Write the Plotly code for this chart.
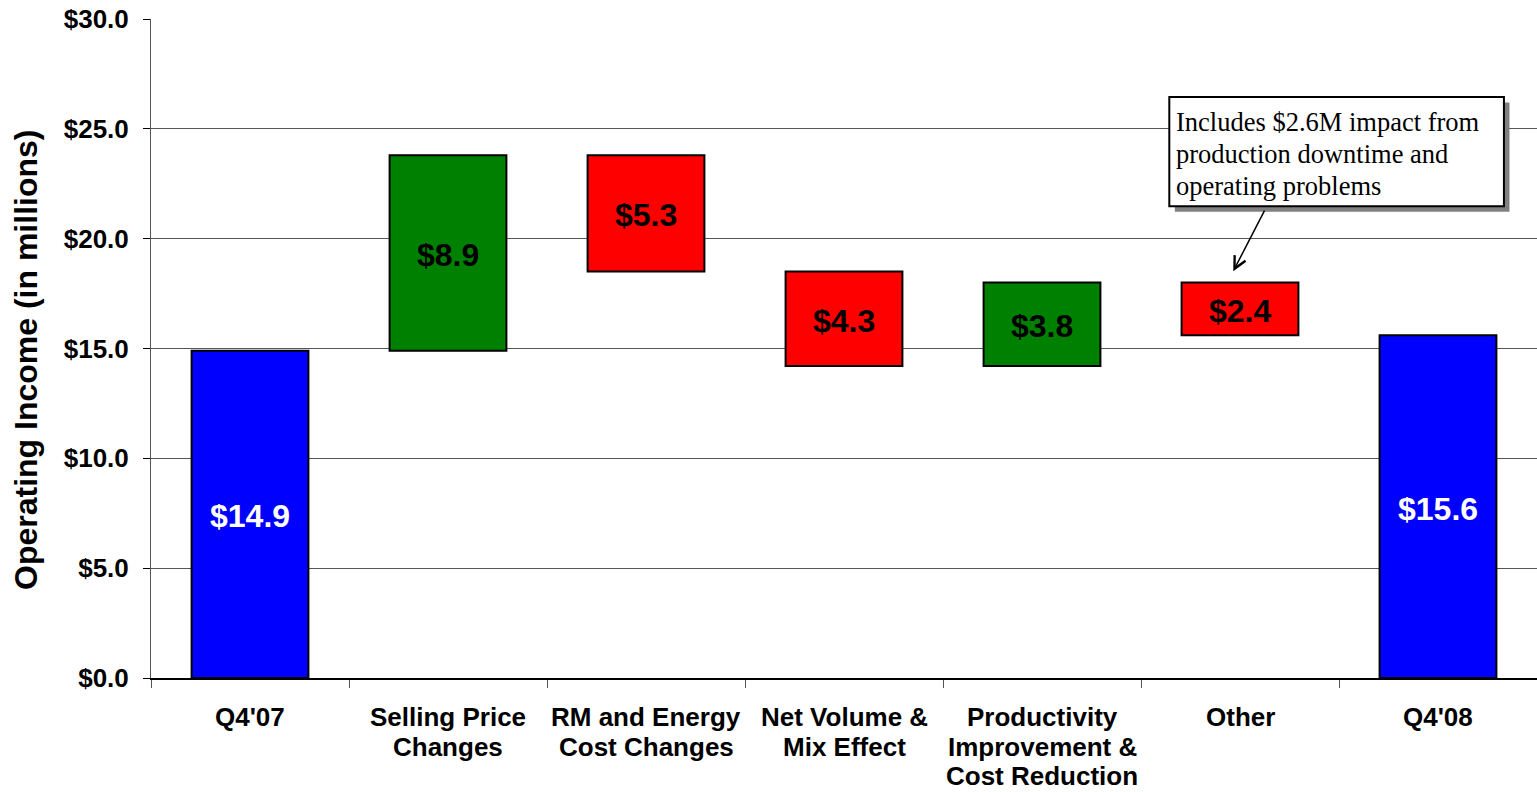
import plotly.graph_objects as go

categories = ["Q4'07", "Selling Price<br>Changes", "RM and Energy<br>Cost Changes",
              "Net Volume &<br>Mix Effect", "Productivity<br>Improvement &<br>Cost Reduction",
              "Other", "Q4'08"]
changes = [14.9, 8.9, -5.3, -4.3, 3.8, -2.4, 15.6]
is_total = [True, False, False, False, False, False, True]
y_ticks = [0, 5, 10, 15, 20, 25, 30]
y_tick_labels = ["$0.0", "$5.0", "$10.0", "$15.0", "$20.0", "$25.0", "$30.0"]
y_title = "Operating Income (in millions)"
callout_lines = ["Includes $2.6M impact from", "production downtime and", "operating problems"]

BLUE, GREEN, RED = "#0000FF", "#008000", "#FF0000"

bases, heights, colors, labels = [], [], [], []
running = 0.0
for v, tot in zip(changes, is_total):
    if tot:
        bases.append(0.0)
        heights.append(v)
        colors.append(BLUE)
        running = v
    else:
        if v >= 0:
            bases.append(running)
            heights.append(v)
            colors.append(GREEN)
        else:
            bases.append(running + v)
            heights.append(-v)
            colors.append(RED)
        running += v
    labels.append(f"${abs(v):.1f}")

SANS = "Liberation Sans, Arial, sans-serif"
SERIF = "Liberation Serif, Times New Roman, serif"

fig = go.Figure()
fig.add_trace(go.Bar(
    x=categories, y=heights, base=bases, width=0.59,
    marker=dict(color=colors, line=dict(color="black", width=2)),
    hoverinfo="skip", showlegend=False,
))

annotations = []
for i, (b, h, lab, tot) in enumerate(zip(bases, heights, labels, is_total)):
    annotations.append(dict(
        x=i, y=b + h / 2, xref="x", yref="y", text=lab, showarrow=False, yshift=-2,
        font=dict(family=SANS, size=32, color="white" if tot else "black", weight="bold"),
    ))

# category labels, one annotation per line for exact line spacing
for i, cat in enumerate(categories):
    for k, part in enumerate(cat.split("<br>")):
        annotations.append(dict(
            x=i, y=0, xref="x", yref="paper", yanchor="middle", xanchor="center",
            yshift=-39 - 29.5 * k, text=part, showarrow=False,
            font=dict(family=SANS, size=26, color="black", weight="bold"),
        ))

# y-axis title as rotated annotation
annotations.append(dict(
    x=0, y=(678 - 360) / 659, xref="paper", yref="paper", xshift=-125,
    xanchor="center", yanchor="middle", textangle=-90, showarrow=False,
    text=y_title, font=dict(family=SANS, size=32, color="black", weight="bold"),
))

# callout box (shadow + box) and text
bx0, bx1, by0, by1 = 4.643, 6.333, 21.48, 26.45
shapes = [
    dict(type="rect", xref="x", yref="y", x0=bx0 + 0.028, x1=bx1 + 0.028,
         y0=by0 - 0.25, y1=by1 - 0.25, fillcolor="#808080", line=dict(width=0), layer="above"),
    dict(type="rect", xref="x", yref="y", x0=bx0, x1=bx1, y0=by0, y1=by1,
         fillcolor="white", line=dict(color="black", width=2), layer="above"),
]
line_y = [25.40, 23.94, 22.49]
for txt, ly in zip(callout_lines, line_y):
    annotations.append(dict(
        x=bx0 + 0.025, y=ly, xref="x", yref="y", xanchor="left", yanchor="middle",
        text=txt, align="left", showarrow=False, yshift=-2,
        font=dict(family=SERIF, size=26.5, color="black"),
    ))
annotations.append(dict(
    x=4.966, y=18.52, xref="x", yref="y", text="", showarrow=True,
    ax=32, ay=-62, arrowhead=5, arrowsize=1.6, arrowwidth=1.5, arrowcolor="black",
))

fig.update_layout(
    width=1537, height=792,
    margin=dict(l=151, r=0, t=19, b=114),
    plot_bgcolor="white", paper_bgcolor="white",
    annotations=annotations, shapes=shapes,
    xaxis=dict(
        type="category", tickson="boundaries", ticks="outside", ticklen=8,
        tickcolor="#555555", showline=True, linecolor="black", linewidth=1.5,
        showgrid=False, showticklabels=False, automargin=False,
    ),
    yaxis=dict(
        range=[0, 30], tickvals=y_ticks, ticktext=y_tick_labels,
        ticks="outside", ticklen=7, tickcolor="black",
        showline=True, linecolor="#555555", linewidth=1,
        showgrid=True, gridcolor="#555555", gridwidth=1, zeroline=False,
        ticklabelstandoff=9, automargin=False,
        tickfont=dict(family=SANS, size=26, color="black", weight="bold"),
    ),
)

fig.write_html("out.html")
